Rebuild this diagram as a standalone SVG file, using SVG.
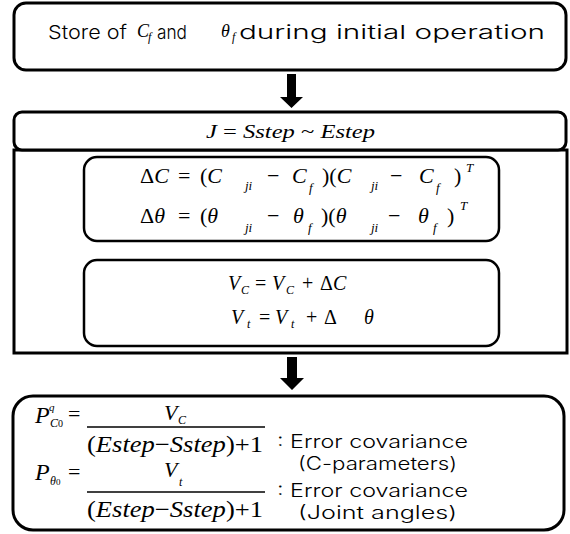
<svg xmlns="http://www.w3.org/2000/svg" width="570" height="534" viewBox="0 0 570 534">
<style>
.box{fill:#fff;stroke:#000;stroke-width:3}
.ibox{fill:#fff;stroke:#000;stroke-width:2.5}
.sans{font-family:Inter,"Noto Sans","Open Sans","DejaVu Sans",sans-serif;font-weight:300;fill:#000}
.m{font-family:"Liberation Serif","Times New Roman",serif;font-style:italic;fill:#000}
.u{font-style:normal}
.e1{font-size:22px}
.sb{font-size:13px}
.bar{stroke:#000;stroke-width:1.5}
</style>
<rect width="570" height="534" fill="#fff"/>

<g id="connectors">
<path d="M287,74 H296 V97 H303 L291.5,108 L280,97 H287 Z" fill="#000"/>
<line x1="290" y1="241" x2="290" y2="261" stroke="#000" stroke-width="3"/>
<path d="M287,357 H297 V378 H304 L292,390 L280,378 H287 Z" fill="#000"/>
</g>

<g id="init">
<rect class="box" x="14" y="3" width="552" height="67" rx="12"/>
<text class="sans" x="48" y="39" font-size="19" textLength="79" lengthAdjust="spacingAndGlyphs">Store of</text>
<text class="m" x="137" y="37" font-size="18">C</text>
<text class="m" x="148" y="41" font-size="12">f</text>
<text class="sans" x="157" y="39" font-size="19" textLength="30" lengthAdjust="spacingAndGlyphs">and</text>
<text class="m" x="221" y="37" font-size="18">θ</text>
<text class="m" x="232" y="41" font-size="12">f</text>
<text class="sans" x="239" y="39" font-size="19" textLength="306" lengthAdjust="spacingAndGlyphs">during initial operation</text>
</g>

<g id="loop">
<rect class="box" x="14" y="150" width="553" height="203"/>
<rect class="box" x="14" y="112" width="552" height="38" rx="8"/>
<text class="m" x="206" y="138" font-size="19" textLength="169" lengthAdjust="spacingAndGlyphs">J <tspan class="u">=</tspan> Sstep <tspan class="u">~</tspan> Estep</text>
</g>

<g id="delta">
<rect class="ibox" x="84" y="157" width="415" height="84" rx="13"/>
<g class="m e1">
<text x="140" y="183"><tspan class="u">Δ</tspan>C</text>
<text class="u" x="178" y="183">=</text>
<text x="200" y="183"><tspan class="u">(</tspan>C</text>
<text class="sb" x="245" y="190">ji</text>
<text class="u" x="267" y="183">−</text>
<text x="292" y="183">C</text>
<text class="sb" x="309" y="192">f</text>
<text x="322" y="183"><tspan class="u">)(</tspan>C</text>
<text class="sb" x="371" y="190">ji</text>
<text class="u" x="390" y="183">−</text>
<text x="419" y="183">C</text>
<text class="sb" x="436" y="192">f</text>
<text class="u" x="454" y="183">)</text>
<text class="sb" x="466" y="172">T</text>

<text x="140" y="223"><tspan class="u">Δ</tspan>θ</text>
<text class="u" x="178" y="223">=</text>
<text x="200" y="223"><tspan class="u">(</tspan>θ</text>
<text class="sb" x="245" y="232">ji</text>
<text class="u" x="267" y="223">−</text>
<text x="293" y="223">θ</text>
<text class="sb" x="308" y="232">f</text>
<text x="321" y="223"><tspan class="u">)(</tspan>θ</text>
<text class="sb" x="371" y="232">ji</text>
<text class="u" x="388" y="223">−</text>
<text x="418" y="223">θ</text>
<text class="sb" x="433" y="232">f</text>
<text class="u" x="447" y="223">)</text>
<text class="sb" x="460" y="210">T</text>
</g>
</g>

<g id="accumulate">
<rect class="ibox" x="84" y="260" width="415" height="86" rx="13"/>
<g class="m" font-size="20">
<text x="228" y="290">V</text>
<text x="241" y="294" font-size="12">C</text>
<text class="u" x="255" y="290">=</text>
<text x="272" y="290">V</text>
<text x="286" y="294" font-size="12">C</text>
<text class="u" x="302" y="290">+</text>
<text x="320" y="290"><tspan class="u">Δ</tspan>C</text>

<text x="231" y="324">V</text>
<text x="247" y="328" font-size="12">t</text>
<text class="u" x="259" y="324">=</text>
<text x="275" y="324">V</text>
<text x="291" y="328" font-size="12">t</text>
<text class="u" x="306" y="324">+</text>
<text class="u" x="324" y="324">Δ</text>
<text x="364" y="324">θ</text>
</g>
</g>

<g id="covariance">
<rect class="box" x="13" y="396" width="551" height="134" rx="20"/>
<g class="m">
<text x="35" y="423" font-size="24">P</text>
<text x="49" y="411" font-size="11">q</text>
<text x="50" y="427" font-size="12">C<tspan class="u" font-size="10">0</tspan></text>
<text class="u" x="68" y="421" font-size="22">=</text>
<line class="bar" x1="87" y1="427" x2="265" y2="427"/>
<text x="164" y="420" font-size="22">V</text>
<text x="178" y="424" font-size="12">C</text>
<text x="87" y="452" font-size="23" textLength="176" lengthAdjust="spacingAndGlyphs"><tspan class="u">(</tspan>Estep<tspan class="u">−</tspan>Sstep<tspan class="u">)+1</tspan></text>

<text x="35" y="480" font-size="24">P</text>
<text x="50" y="485" font-size="12">θ<tspan class="u" font-size="9">0</tspan></text>
<text class="u" x="68" y="479" font-size="22">=</text>
<line class="bar" x1="87" y1="492" x2="265" y2="492"/>
<text x="164" y="477" font-size="22">V</text>
<text x="179" y="486" font-size="12">t</text>
<text x="87" y="517" font-size="23" textLength="176" lengthAdjust="spacingAndGlyphs"><tspan class="u">(</tspan>Estep<tspan class="u">−</tspan>Sstep<tspan class="u">)+1</tspan></text>
</g>
<g class="sans" font-size="18">
<text x="277" y="448" textLength="191" lengthAdjust="spacingAndGlyphs">: Error covariance</text>
<text x="298" y="470" textLength="159" lengthAdjust="spacingAndGlyphs">(C-parameters)</text>
<text x="277" y="497" textLength="191" lengthAdjust="spacingAndGlyphs">: Error covariance</text>
<text x="298" y="519" textLength="159" lengthAdjust="spacingAndGlyphs">(Joint angles)</text>
</g>
</g>
</svg>
